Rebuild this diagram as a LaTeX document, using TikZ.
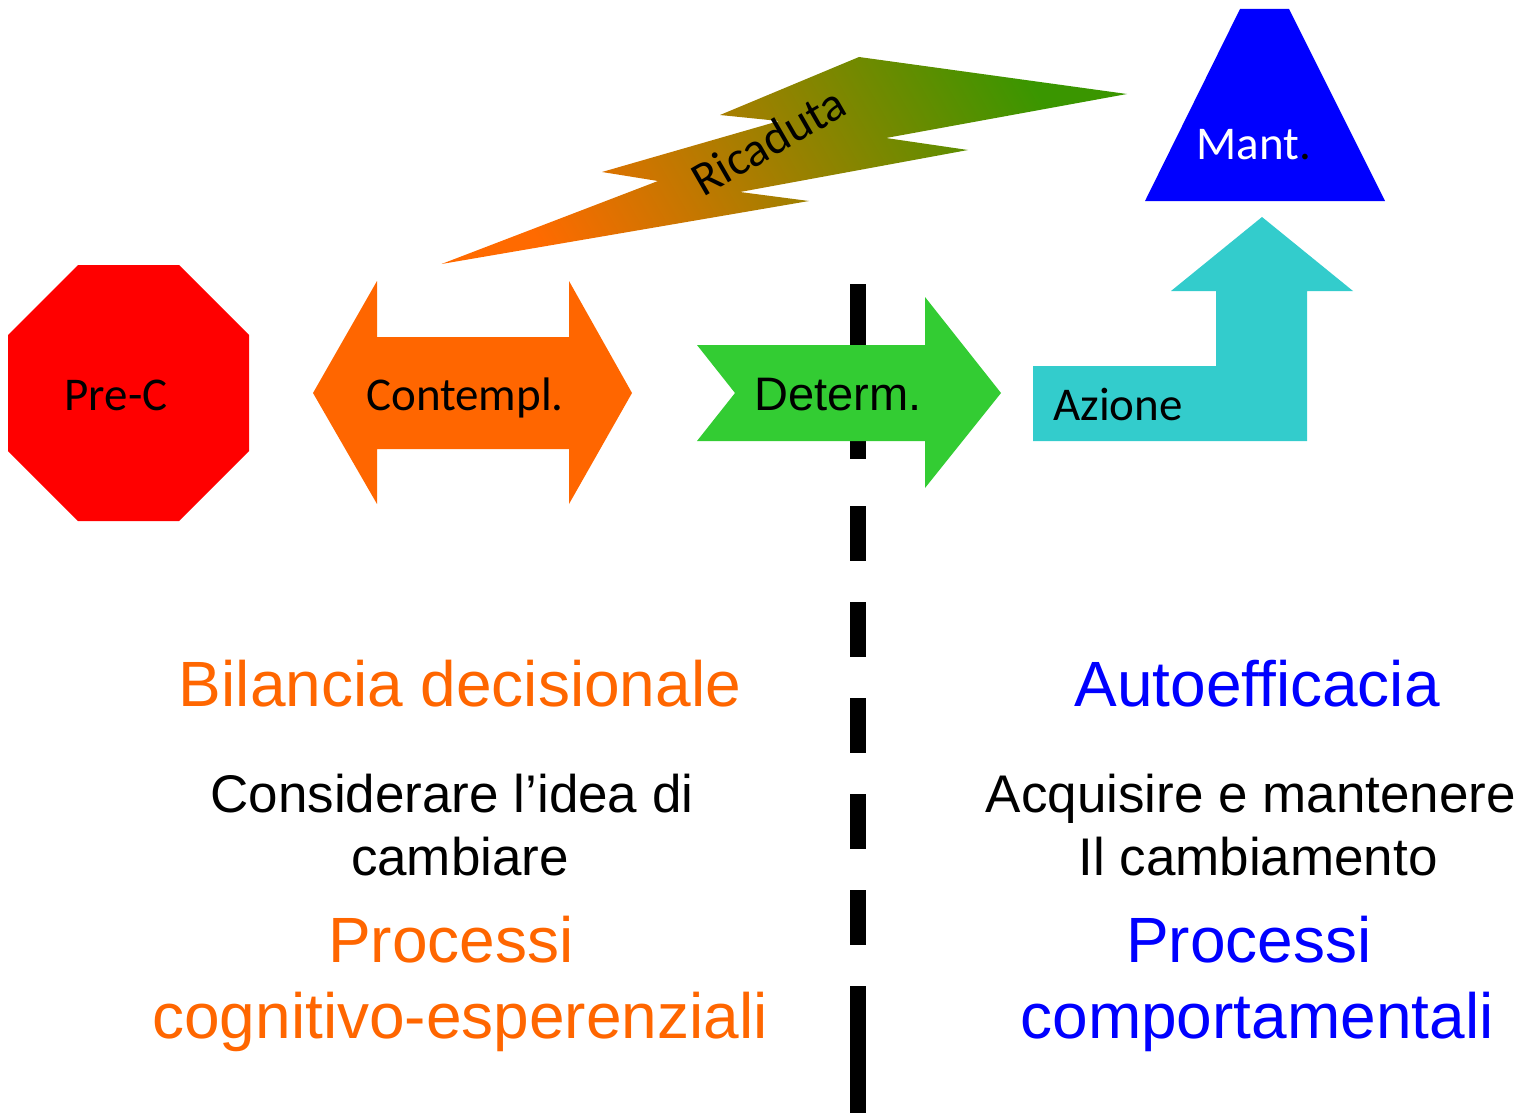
\documentclass[tikz,border=0pt]{standalone}
\usepackage{fontspec}
\setmainfont{Liberation Sans}
\newfontfamily\calibri{Carlito}
\definecolor{octred}{HTML}{FF0000}
\definecolor{contorange}{HTML}{FF6600}
\definecolor{detgreen}{HTML}{33CC33}
\definecolor{azcyan}{HTML}{33CCCC}
\definecolor{mantblue}{HTML}{0000FF}
\definecolor{boltorange}{HTML}{FF6A00}
\definecolor{boltgreen}{HTML}{3A9600}
\definecolor{txtorange}{HTML}{FF6600}
\definecolor{txtblue}{HTML}{0000FF}
\begin{document}
\begin{tikzpicture}[x=1pt,y=-1pt,
  shapelabel/.style={inner sep=0pt,anchor=base,font=\calibri\fontsize{47}{56}\selectfont},
  bigtext/.style={inner sep=0pt,anchor=base,font=\fontsize{64}{76}\selectfont},
  midtext/.style={inner sep=0pt,anchor=base,font=\fontsize{53}{63}\selectfont},
  divider/.style={line width=16pt,dash pattern=on 175pt off 47pt on 55pt off 41pt on 55pt off 41pt on 55pt off 41pt on 55pt off 41pt on 55pt off 41pt on 200pt off 10pt}]
\useasboundingbox (0,0) rectangle (1523,1113);

% divider
\coordinate (dtop) at (858,284);
\coordinate (dbot) at (858,1113);
\draw[divider] (dtop) -- (dbot);

% lightning bolt (Ricaduta)
\shade[left color=boltorange,right color=boltgreen,shading angle=120]
  (441.5,264) -- (809,201) -- (740,192) -- (968,150) -- (886,138) -- (1127,94)
  -- (859,57) -- (720,115) -- (779,121) -- (602,172) -- (658,181) -- cycle;
\node[inner sep=0pt,rotate=30,font=\calibri\fontsize{48}{56}\selectfont] (ricaduta) at (768,141) {Ricaduta};

% octagon Pre-C
\fill[octred] (78,265) -- (179,265) -- (249,335) -- (249,451) -- (179,521) -- (78,521) -- (8,451) -- (8,335) -- cycle;
\node[shapelabel] (prec) at (116,410) {Pre-C};

% double arrow Contempl.
\fill[contorange] (313,393) -- (377,281) -- (377,337) -- (569,337) -- (569,281) -- (632,393)
  -- (569,504) -- (569,449) -- (377,449) -- (377,504) -- cycle;
\node[shapelabel] (contempl) at (465,410) {Contempl.};

% notched arrow Determ.
\fill[detgreen] (697,345) -- (925,345) -- (925,297) -- (1001,393) -- (925,488) -- (925,441)
  -- (697,441) -- (735,393) -- cycle;
\node[inner sep=0pt,anchor=base,font=\fontsize{47}{56}\selectfont] (determ) at (838,410) {Determ.};

% bent-up arrow Azione
\fill[azcyan] (1033,441) -- (1033,366) -- (1216,366) -- (1216,291) -- (1171,291) -- (1262,217)
  -- (1353,291) -- (1307,291) -- (1307,441) -- cycle;
\node[shapelabel] (azione) at (1118,420) {Azione};

% trapezoid Mant.
\fill[mantblue] (1240,9) -- (1289,9) -- (1385,201) -- (1145,201) -- cycle;
\node[shapelabel] (mant) at (1254,160) {{\color{white}Mant}{\color{black}.}};

% left texts
\node[bigtext,text=txtorange] (bil) at (460,706) {Bilancia decisionale};
\node[midtext] (cons1) at (452,812) {Considerare l’idea di};
\node[midtext] (cons2) at (460,875) {cambiare};
\node[bigtext,text=txtorange] (proc1) at (451,962) {Processi};
\node[bigtext,text=txtorange] (proc2) at (460,1038) {cognitivo-esperenziali};

% right texts
\node[bigtext,text=txtblue] (auto) at (1257,706) {Autoefficacia};
\node[midtext] (acq1) at (1251,812) {Acquisire e mantenere};
\node[midtext] (acq2) at (1258,875) {Il cambiamento};
\node[bigtext,text=txtblue] (proc3) at (1249,962) {Processi};
\node[bigtext,text=txtblue] (proc4) at (1257,1038) {comportamentali};
\end{tikzpicture}
\end{document}
